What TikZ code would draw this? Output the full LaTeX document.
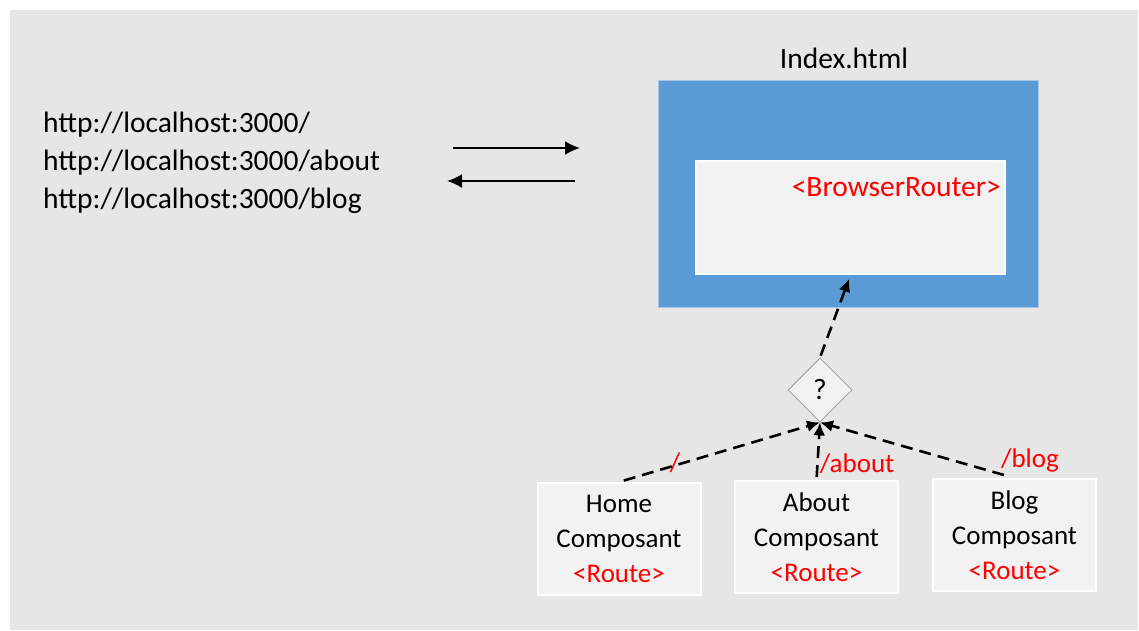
\documentclass[tikz,border=0pt]{standalone}
\usepackage{fontspec}
\setmainfont{Carlito}
\usetikzlibrary{arrows.meta,shapes.geometric}
\definecolor{bggray}{RGB}{230,230,230}
\definecolor{pageblue}{RGB}{91,155,213}
\definecolor{boxgray}{RGB}{242,242,242}

\begin{document}
\begin{tikzpicture}[x=1pt,y=-1pt]
    \tikzstyle{txt}=[font=\fontsize{27}{35}\selectfont,inner sep=0pt]
    \tikzstyle{big}=[font=\fontsize{29.5}{38}\selectfont,inner sep=0pt]
    \tikzstyle{path}=[txt,text=red]
    \tikzstyle{comp}=[txt,fill=boxgray,draw=white,line width=2pt,align=center,minimum width=163pt,minimum height=112pt]
    \tikzstyle{fwd}=[draw=black,line width=2pt,-{Latex[length=15pt,width=14pt]}]
    \tikzstyle{match}=[draw=black,line width=2.6pt,dash pattern=on 12pt off 7pt,-{Latex[length=13pt,width=12pt]}]

    \useasboundingbox (0,0) rectangle (1139,630);
    \fill[bggray] (10,10) rectangle (1138,630);

    % addresses typed in the browser
    \node[big,anchor=west,align=left] (urls) at (43,163)
        {http://localhost:3000/\\http://localhost:3000/about\\http://localhost:3000/blog};

    \coordinate (go1) at (453,148);
    \coordinate (go2) at (580,148);
    \coordinate (back1) at (575,181);
    \coordinate (back2) at (447,181);

    % the served page
    \node[big] (idx) at (844,58) {Index.html};
    \node[fill=pageblue,draw=pageblue!55!white,line width=0.8pt,minimum width=380pt,minimum height=227pt] (page) at (848,193.5) {};
    \node[fill=boxgray,draw=white,line width=2pt,minimum width=309pt,minimum height=113pt] (router) at (850.5,217.5) {};
    \node[big,text=red,anchor=east] (tag) at (1001,187) {<BrowserRouter>};

    \node[diamond,aspect=1,fill=boxgray,draw=gray!80,line width=0.8pt,minimum width=64pt,minimum height=64pt,big] (choice) at (820,390) {?};

    % one component per route
    \node[comp] (home) at (619,539) {Home\\Composant\\\textcolor{red}{<Route>}};
    \node[comp] (about) at (816.5,537) {About\\Composant\\\textcolor{red}{<Route>}};
    \node[comp] (blog) at (1014.5,535) {Blog\\Composant\\\textcolor{red}{<Route>}};

    \node[path] (p1) at (675,463) {/};
    \node[path] (p2) at (857,464) {/about};
    \node[path] (p3) at (1030,460) {/blog};

   \draw [fwd] (go1) -- (go2);
   \draw [fwd] (back1) -- (back2);

   \draw [match,shorten <=5pt] (home.north) -- (choice.south);
   \draw [match,shorten <=3pt] (about.north) -- (choice.south);
   \draw [match,shorten <=11pt] (blog.north) -- (choice.south);
   \draw [match,shorten <=2pt,shorten >=4pt] (choice.north) -- (router.south);

\end{tikzpicture}
\end{document}
